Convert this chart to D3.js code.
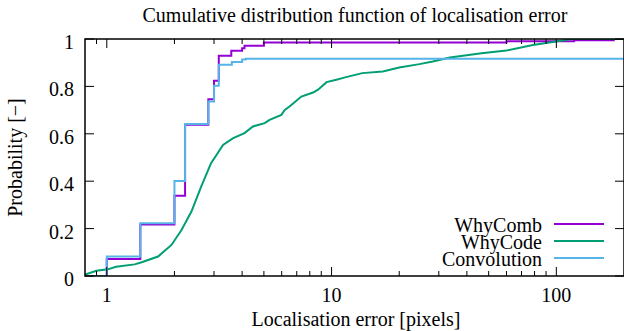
<!DOCTYPE html>
<html>
<head>
<meta charset="utf-8">
<script src="https://cdn.jsdelivr.net/npm/d3@7"></script>
</head>
<body style="margin:0">
<svg class="chart" width="624" height="331"></svg>
<script>
// step curves: x where the step happens, probability after it
var combX = [0.8, 1, 1.41, 2.0, 2.23, 2.83, 3.0, 3.15, 3.58, 4.0, 4.1, 5.0, 60, 120, 180, 200];
var combY = [0, 0.072, 0.217, 0.339, 0.638, 0.746, 0.824, 0.929, 0.95, 0.961, 0.972, 0.985, 0.99, 0.995, 1.0, 1.0];

var convX = [0.8, 1, 1.41, 2.0, 2.23, 2.83, 3.0, 3.15, 3.6, 4.0, 4.15, 200];
var convY = [0, 0.082, 0.223, 0.401, 0.641, 0.736, 0.803, 0.891, 0.903, 0.913, 0.917, 0.917];

// WhyCode is a dense curve
var codeX = [0.8, 0.9, 1.01, 1.1, 1.33, 1.43, 1.69, 1.94, 2.15, 2.38, 2.63, 2.91, 3.29, 3.65, 4.1, 4.47,
             5.04, 5.3, 5.98, 6.19, 6.5, 7.34, 8.27, 8.71, 9.5, 10.5, 11.6, 13.7, 16.9, 20.0, 24.6,
             28.2, 33.6, 46.5, 59.9, 78.6, 99.6, 117, 200];
var codeY = [0.006, 0.022, 0.028, 0.039, 0.049, 0.058, 0.082, 0.131, 0.194, 0.272, 0.377, 0.476, 0.553, 0.582, 0.603, 0.631,
             0.645, 0.659, 0.680, 0.701, 0.715, 0.757, 0.774, 0.786, 0.818, 0.828, 0.839, 0.856, 0.863, 0.880, 0.894,
             0.905, 0.922, 0.940, 0.951, 0.975, 0.989, 1.0, 1.0];

var seriesNames = ["WhyComb", "WhyCode", "Convolution"];
var colors = ["#9400d3", "#009e73", "#56b4e9"];

var yTicks = [0, 0.2, 0.4, 0.6, 0.8, 1];
var yTickLabels = ["0", "0.2", "0.4", "0.6", "0.8", "1"];
var xMajor = [1, 10, 100];
var xMinor = [0.9, 2, 3, 4, 5, 6, 7, 8, 9, 20, 30, 40, 50, 60, 70, 80, 90];

var serif = "'Liberation Serif'";

var margin = {top: 39, right: 0, bottom: 55, left: 85},
    width = 624 - margin.left - margin.right,
    height = 331 - margin.top - margin.bottom;

var x = d3.scaleLog().domain([0.8, 200]).range([0, width]);
var y = d3.scaleLinear().domain([0, 1]).range([height, 0]);

var svg = d3.select(".chart");
var g = svg.append("g").attr("transform", "translate(" + margin.left + "," + margin.top + ")");

// curves (clipped to plot area)
svg.append("defs").append("clipPath").attr("id", "clip")
  .append("rect").attr("width", width).attr("height", height);

var plot = g.append("g").attr("clip-path", "url(#clip)");

function pts(xs, ys) {
  return xs.map(function(d, i) { return [d, ys[i]]; });
}

var stepLine = d3.line()
  .x(function(d) { return x(d[0]); })
  .y(function(d) { return y(d[1]); })
  .curve(d3.curveStepAfter);

var smoothLine = d3.line()
  .x(function(d) { return x(d[0]); })
  .y(function(d) { return y(d[1]); });

plot.append("path").datum(pts(combX, combY))
  .attr("d", stepLine).attr("fill", "none")
  .attr("stroke", colors[0]).attr("stroke-width", 2);

plot.append("path").datum(pts(codeX, codeY))
  .attr("d", smoothLine).attr("fill", "none")
  .attr("stroke", colors[1]).attr("stroke-width", 2);

plot.append("path").datum(pts(convX, convY))
  .attr("d", stepLine).attr("fill", "none")
  .attr("stroke", colors[2]).attr("stroke-width", 2);

// ticks, gnuplot style: inward on all sides
var tk = g.append("g").attr("stroke", "#000").attr("stroke-width", 1);
yTicks.forEach(function(t) {
  tk.append("line").attr("x1", 0).attr("x2", 9).attr("y1", y(t)).attr("y2", y(t));
  tk.append("line").attr("x1", width).attr("x2", width - 9).attr("y1", y(t)).attr("y2", y(t));
});
xMajor.forEach(function(t) {
  tk.append("line").attr("x1", x(t)).attr("x2", x(t)).attr("y1", height).attr("y2", height - 9);
  tk.append("line").attr("x1", x(t)).attr("x2", x(t)).attr("y1", 0).attr("y2", 9);
});
xMinor.forEach(function(t) {
  tk.append("line").attr("x1", x(t)).attr("x2", x(t)).attr("y1", height).attr("y2", height - 5);
  tk.append("line").attr("x1", x(t)).attr("x2", x(t)).attr("y1", 0).attr("y2", 5);
});

// frame
g.append("rect").attr("width", width).attr("height", height)
  .attr("fill", "none").attr("stroke", "#000").attr("stroke-width", 1.5);

// tick labels
g.selectAll(".ylab").data(yTicks).enter().append("text")
  .attr("x", -11).attr("y", function(d) { return y(d) + 10; })
  .attr("text-anchor", "end")
  .style("font-family", serif).style("font-size", "20px")
  .text(function(d, i) { return yTickLabels[i]; });

g.selectAll(".xlab").data(xMajor).enter().append("text")
  .attr("x", function(d) { return x(d); }).attr("y", height + 26)
  .attr("text-anchor", "middle")
  .style("font-family", serif).style("font-size", "20px")
  .text(function(d) { return d; });

// titles
svg.append("text").attr("x", 355).attr("y", 22).attr("text-anchor", "middle")
  .style("font-family", serif).style("font-size", "20px")
  .text("Cumulative distribution function of localisation error");

svg.append("text").attr("x", 356).attr("y", 326).attr("text-anchor", "middle")
  .style("font-family", serif).style("font-size", "20px")
  .text("Localisation error [pixels]");

svg.append("text").attr("transform", "translate(22," + (margin.top + height / 2) + ") rotate(-90)")
  .attr("text-anchor", "middle")
  .style("font-family", serif).style("font-size", "20px")
  .text("Probability [\u2212]");

// legend
var leg = g.append("g");
seriesNames.forEach(function(name, i) {
  var ly = 224 - margin.top + i * 17;
  leg.append("text").attr("x", 542 - margin.left).attr("y", ly + 8)
    .attr("text-anchor", "end").style("font-family", serif).style("font-size", "20px").text(name);
  leg.append("line").attr("x1", 554 - margin.left).attr("x2", 604 - margin.left)
    .attr("y1", ly).attr("y2", ly)
    .attr("stroke", colors[i]).attr("stroke-width", 2);
});
</script>
</body>
</html>
